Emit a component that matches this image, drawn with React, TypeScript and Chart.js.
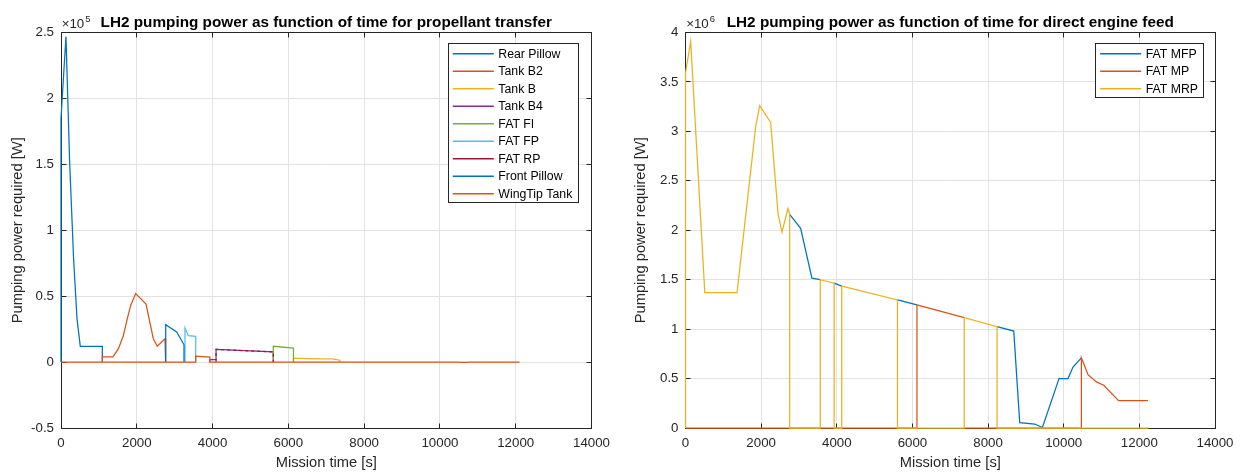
import React, { useEffect, useRef } from "react";
import { Chart, registerables } from "chart.js";

Chart.register(...registerables);

const FONT = '"Liberation Sans", Arial, Helvetica, sans-serif';

// MATLAB default colour order
const BLUE = "#0072BD";
const ORANGE = "#D95319";
const YELLOW = "#EDB120";
const PURPLE = "#7E2F8E";
const GREEN = "#77AC30";
const LIGHTBLUE = "#4DBEEE";
const DARKRED = "#A2142F";

type Num = number | null;

// ---------------- Left panel: propellant transfer (units of 1e5 W) ----------------
const leftTitle = "LH2 pumping power as function of time for propellant transfer";
const leftExponent = "5";
const leftYTicks = { min: -0.5, max: 2.5, step: 0.5 };

const leftNames = [
  "Rear Pillow",
  "Tank B2",
  "Tank B",
  "Tank B4",
  "FAT FI",
  "FAT FP",
  "FAT RP",
  "Front Pillow",
  "WingTip Tank",
];
const leftColors = [BLUE, ORANGE, YELLOW, PURPLE, GREEN, LIGHTBLUE, DARKRED, BLUE, ORANGE];

// each tank is shown over its active window; zero elsewhere (drawn by the baseline series)
const rearPillowT = [0, 0, 131, 228, 333, 422, 509, 1090, 1090];
const rearPillowP: Num[] = [0, 1.85, 2.47, 1.52, 0.78, 0.33, 0.12, 0.12, 0];

const tankB2T = [1090, 1090, 1371, 1513, 1645, 1750, 1839, 1971, 2243, 2436, 2541, 2745, 2760];
const tankB2P: Num[] = [0, 0.04, 0.04, 0.1, 0.2, 0.33, 0.43, 0.52, 0.44, 0.177, 0.12, 0.177, 0];

const tankBT = [6135, 6135, 6500, 6900, 7150, 7360, 7360];
const tankBP: Num[] = [0, 0.03, 0.027, 0.024, 0.025, 0.014, 0];

const tankB4T = [3930, 3930, 4092, 4092, 5603, 5603];
const tankB4P: Num[] = [0, 0.018, 0.018, 0.097, 0.077, 0];

const fatFIT = [5603, 5603, 6135, 6135];
const fatFIP: Num[] = [0, 0.12, 0.106, 0];

const fatFPT = [3272, 3272, 3360, 3555, 3555];
const fatFPP: Num[] = [0, 0.258, 0.2, 0.195, 0];

const fatRPT = [4092, 4092, 5603, 5603];
const fatRPP: Num[] = [0, 0.097, 0.077, 0];

const frontPillowT = [2763, 2763, 3053, 3246, 3246];
const frontPillowP: Num[] = [0, 0.283, 0.228, 0.131, 0];

const wingTipT = [0, 3555, 3555, 3930, 3930, 10480, 10560, 10700, 10760, 12100];
const wingTipP: Num[] = [0, 0, 0.045, 0.038, 0, 0, -0.003, -0.003, 0, 0];

const leftSeries: [number[], Num[]][] = [
  [rearPillowT, rearPillowP],
  [tankB2T, tankB2P],
  [tankBT, tankBP],
  [tankB4T, tankB4P],
  [fatFIT, fatFIP],
  [fatFPT, fatFPP],
  [fatRPT, fatRPP],
  [frontPillowT, frontPillowP],
  [wingTipT, wingTipP],
];
const leftDashes: (number[] | undefined)[] = [
  undefined, undefined, undefined, undefined, undefined, undefined, [3, 3], undefined, undefined,
];

// ---------------- Right panel: direct engine feed (units of 1e6 W) ----------------
const rightTitle = "LH2 pumping power as function of time for direct engine feed";
const rightExponent = "6";
const rightYTicks = { min: 0, max: 4, step: 0.5 };

const rightNames = ["FAT MFP", "FAT MP", "FAT MRP"];
const rightColors = [BLUE, ORANGE, YELLOW];

// null = break in the line (switch-over edges are drawn by the series on top)
const fatMfpT = [
  2754, 3044, 3343, 3564, 3564, 3930, 4130, 4130, 5605, 6120, 6120,
  8238, 8679, 8837, 9234, 9437, 9876, 10114, 10246, 10467,
];
const fatMfpP: Num[] = [
  2.16, 2.02, 1.515, 1.5, null, 1.465, 1.435, null, 1.295, 1.245, null,
  1.025, 0.98, 0.055, 0.04, 0.005, 0.5, 0.5, 0.617, 0.709,
];

const fatMpT = [0, 6120, 6120, 7370, 7370, 7370, 10467, 10467, 10528, 10642, 10864, 11057, 11453, 12227];
const fatMpP: Num[] = [0, 0, 1.245, 1.117, null, 0, 0, 0.709, 0.652, 0.54, 0.466, 0.432, 0.277, 0.277];

const fatMrpT = [
  0, 0, 137, 510, 1363, 1856, 1962, 2252, 2446, 2551, 2709, 2754, 2754,
  3564, 3564, 3930, 3930, 4130, 4130, 5605, 5605, 7370, 7370, 8238, 8238, 12240,
];
const fatMrpP: Num[] = [
  0, 3.59, 3.91, 1.37, 1.37, 3.05, 3.26, 3.09, 2.17, 1.98, 2.22, 2.16, 0,
  0, 1.5, 1.465, 0, 0, 1.435, 1.295, 0, 0, 1.117, 1.025, 0, 0,
];

const rightSeries: [number[], Num[]][] = [
  [fatMfpT, fatMfpP],
  [fatMpT, fatMpP],
  [fatMrpT, fatMrpP],
];

// ---------------- shared axis settings ----------------
const xTickValues = { min: 0, max: 14000, step: 2000 };
const xLabel = "Mission time [s]";
const yLabel = "Pumping power required [W]";

function xy(t: number[], p: Num[]) {
  return t.map((v, i) => ({ x: v, y: p[i] }));
}

const decorPlugin = {
  id: "matlabDecor",
  beforeDatasetsDraw(chart: any) {
    const { ctx, chartArea: a } = chart;
    const xs = chart.scales.x;
    const ys = chart.scales.y;
    ctx.save();
    const L = Math.floor(a.left) + 0.5;
    const R = Math.floor(a.right) + 0.5;
    const T = Math.floor(a.top) + 0.5;
    const B = Math.floor(a.bottom) + 0.5;
    ctx.strokeStyle = "#262626";
    ctx.lineWidth = 1;
    ctx.beginPath();
    const tl = 5;
    xs.ticks.forEach((t: any) => {
      const px = Math.floor(xs.getPixelForValue(t.value)) + 0.5;
      ctx.moveTo(px, B);
      ctx.lineTo(px, B - tl);
      ctx.moveTo(px, T);
      ctx.lineTo(px, T + tl);
    });
    ys.ticks.forEach((t: any) => {
      const py = Math.floor(ys.getPixelForValue(t.value)) + 0.5;
      ctx.moveTo(L, py);
      ctx.lineTo(L + tl, py);
      ctx.moveTo(R, py);
      ctx.lineTo(R - tl, py);
    });
    ctx.stroke();
    ctx.strokeRect(L, T, R - L, B - T);
    ctx.restore();
  },
  afterDraw(chart: any, _args: any, opts: any) {
    const { ctx, chartArea: a } = chart;
    ctx.save();
    // exponent label
    ctx.fillStyle = "#262626";
    ctx.textAlign = "left";
    ctx.textBaseline = "alphabetic";
    ctx.font = `13.3px ${FONT}`;
    const base = "\u00d710";
    ctx.fillText(base, a.left + 0.7, 28.3);
    const w = ctx.measureText(base).width;
    ctx.font = `9.5px ${FONT}`;
    ctx.fillText(opts.exponent, a.left + 0.7 + w + 1, 22.3);

    // title
    ctx.fillStyle = "#000000";
    ctx.font = `bold 15.3px ${FONT}`;
    ctx.textAlign = "center";
    ctx.fillText(opts.title, (a.left + a.right) / 2, 26.5);

    // legend
    const lg = opts.legend;
    const n = lg.names.length;
    const rowH = 17.5;
    const y2 = lg.y1 + 10.5 + (n - 1) * rowH + 8;
    ctx.fillStyle = "#ffffff";
    ctx.fillRect(lg.x1, lg.y1, lg.x2 - lg.x1, y2 - lg.y1);
    ctx.strokeStyle = "#262626";
    ctx.lineWidth = 1;
    ctx.strokeRect(Math.floor(lg.x1) + 0.5, Math.floor(lg.y1) + 0.5, Math.round(lg.x2 - lg.x1), Math.round(y2 - lg.y1));
    ctx.font = `12.3px ${FONT}`;
    ctx.textAlign = "left";
    ctx.textBaseline = "middle";
    for (let i = 0; i < n; i++) {
      const cy = lg.y1 + 10.5 + i * rowH;
      ctx.strokeStyle = lg.colors[i];
      ctx.lineWidth = 1.4;
      ctx.beginPath();
      ctx.moveTo(lg.x1 + 4.5, cy);
      ctx.lineTo(lg.x1 + 45.5, cy);
      ctx.stroke();
      ctx.fillStyle = "#000000";
      ctx.fillText(lg.names[i], lg.x1 + 50, cy + 0.5);
    }
    ctx.restore();
  },
};

interface PanelSpec {
  title: string;
  exponent: string;
  names: string[];
  colors: string[];
  series: [number[], Num[]][];
  dashes?: (number[] | undefined)[];
  yTicks: { min: number; max: number; step: number };
  axisLeft: number;
  padRight: number;
  yTitlePad: number;
  legendBox: { x1: number; x2: number; y1: number };
}

function makeConfig(spec: PanelSpec): any {
  const n = spec.series.length;
  const tickFont = { family: FONT, size: 13.3 };
  const labelFont = { family: FONT, size: 14.7 };
  return {
    type: "line",
    data: {
      datasets: spec.series.map(([t, p], i) => ({
        label: spec.names[i],
        data: xy(t, p),
        borderColor: spec.colors[i],
        backgroundColor: spec.colors[i],
        borderWidth: 1.25,
        borderDash: spec.dashes ? spec.dashes[i] || [] : [],
        pointRadius: 0,
        tension: 0,
        fill: false,
        clip: false,
        spanGaps: false,
        order: n - i,
      })),
    },
    options: {
      animation: false,
      responsive: false,
      maintainAspectRatio: false,
      devicePixelRatio: 1,
      events: [],
      layout: { padding: { top: 32.5, right: spec.padRight, left: 0, bottom: 0 } },
      plugins: {
        legend: { display: false },
        title: { display: false },
        tooltip: { enabled: false },
        matlabDecor: {
          title: spec.title,
          exponent: spec.exponent,
          legend: { ...spec.legendBox, names: spec.names, colors: spec.colors },
        },
      },
      scales: {
        x: {
          type: "linear",
          min: xTickValues.min,
          max: xTickValues.max,
          ticks: {
            stepSize: xTickValues.step,
            callback: (v: any) => String(v),
            font: tickFont,
            color: "#262626",
            padding: 7,
            maxRotation: 0,
            autoSkip: false,
          },
          grid: { color: "#e2e2e2", drawTicks: false, lineWidth: 1 },
          border: { display: false },
          title: {
            display: true,
            text: xLabel,
            font: labelFont,
            color: "#262626",
            padding: { top: 0, bottom: 2 },
          },
          afterFit: (s: any) => {
            s.height = 46;
          },
        },
        y: {
          type: "linear",
          min: spec.yTicks.min,
          max: spec.yTicks.max,
          ticks: {
            stepSize: spec.yTicks.step,
            callback: (v: any) => String(Math.round(v * 10) / 10),
            font: tickFont,
            color: "#262626",
            padding: 7,
          },
          grid: { color: "#e2e2e2", drawTicks: false, lineWidth: 1 },
          border: { display: false },
          title: {
            display: true,
            text: yLabel,
            font: labelFont,
            color: "#262626",
            padding: { top: spec.yTitlePad, bottom: 0 },
          },
          afterFit: (s: any) => {
            s.width = spec.axisLeft;
          },
        },
      },
    },
    plugins: [decorPlugin],
  };
}

const leftSpec: PanelSpec = {
  title: leftTitle,
  exponent: leftExponent,
  names: leftNames,
  colors: leftColors,
  series: leftSeries,
  dashes: leftDashes,
  yTicks: leftYTicks,
  axisLeft: 61,
  padRight: 29.5,
  yTitlePad: 9.5,
  legendBox: { x1: 448.3, x2: 578.3, y1: 43.3 },
};

const rightSpec: PanelSpec = {
  title: rightTitle,
  exponent: rightExponent,
  names: rightNames,
  colors: rightColors,
  series: rightSeries,
  yTicks: rightYTicks,
  axisLeft: 64.5,
  padRight: 28,
  yTitlePad: 11.5,
  legendBox: { x1: 474.7, x2: 582.3, y1: 43.3 },
};

function Panel({ spec, left, width }: { spec: PanelSpec; left: number; width: number }) {
  const ref = useRef<HTMLCanvasElement | null>(null);
  useEffect(() => {
    if (!ref.current) return;
    const chart = new Chart(ref.current, makeConfig(spec));
    return () => chart.destroy();
  }, [spec]);
  return (
    <canvas
      ref={ref}
      width={width}
      height={474}
      style={{ position: "absolute", left, top: 0, width, height: 474, display: "block" }}
    />
  );
}

export default function App() {
  return (
    <div
      style={{
        position: "absolute",
        left: 0,
        top: 0,
        width: 1243,
        height: 474,
        background: "#ffffff",
        overflow: "hidden",
      }}
    >
      <Panel spec={leftSpec} left={0} width={621} />
      <Panel spec={rightSpec} left={621} width={622} />
    </div>
  );
}
